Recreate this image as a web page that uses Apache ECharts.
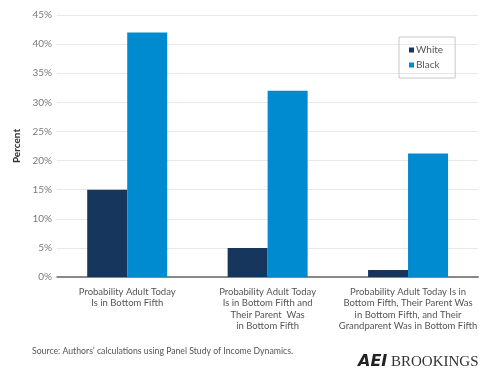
<!DOCTYPE html>
<html><head><meta charset="utf-8">
<script src="https://cdn.jsdelivr.net/npm/echarts@6/dist/echarts.min.js"></script>
<style>html,body{margin:0;padding:0;background:#fff}#c{width:480px;height:374px}</style>
</head><body><div id="c"></div>
<script>
const categories = [
  "Probability Adult Today\nIs in Bottom Fifth",
  "Probability Adult Today\nIs in Bottom Fifth and\nTheir Parent  Was\nin Bottom Fifth",
  "Probability Adult Today Is in\nBottom Fifth, Their Parent Was\nin Bottom Fifth, and Their\nGrandparent Was in Bottom Fifth"
];
const whiteValues = [15.0, 5.0, 1.2];
const blackValues = [42.0, 32.0, 21.2];
const seriesNames = ["White", "Black"];
const yTicks = [0, 5, 10, 15, 20, 25, 30, 35, 40, 45];
const sourceText = "Source: Authors\u2019 calculations using Panel Study of Income Dynamics.";

const FONT = "Lato";
const chart = echarts.init(document.getElementById('c'), null, {renderer: 'canvas'});
chart.setOption({
  animation: false,
  textStyle: {fontFamily: FONT},
  grid: {left: 57, right: 0, top: 15, bottom: 97},
  legend: {
    data: seriesNames,
    orient: 'vertical',
    left: 399, top: 37,
    width: 58,
    padding: [8, 12, 8, 10],
    itemWidth: 5, itemHeight: 5, itemGap: 5,
    borderColor: '#c8c8c8', borderWidth: 1,
    icon: 'rect',
    textStyle: {fontSize: 10, color: '#555', fontFamily: FONT, padding: [0, 0, 0, -3]}
  },
  xAxis: {
    type: 'category',
    data: categories,
    axisTick: {show: false},
    axisLine: {lineStyle: {color: '#666', width: 1.5}},
    axisLabel: {interval: 0, fontSize: 9.5, color: '#555', lineHeight: 11.5, margin: 9, fontFamily: FONT}
  },
  yAxis: {
    type: 'value',
    min: yTicks[0], max: yTicks[yTicks.length - 1], interval: 5,
    name: 'Percent',
    nameLocation: 'middle',
    nameGap: 34,
    nameTextStyle: {fontSize: 10, fontWeight: 'bold', color: '#333', fontFamily: FONT},
    axisLabel: {formatter: v => v + '%', fontSize: 10, color: '#7a7a7a', margin: 5, fontFamily: FONT},
    splitLine: {lineStyle: {color: '#e8e8e8', width: 1}},
    axisLine: {show: false}, axisTick: {show: false}
  },
  series: [
    {name: seriesNames[0], type: 'bar', data: whiteValues, barWidth: 40, barGap: '0%',
     itemStyle: {color: '#17365d'}},
    {name: seriesNames[1], type: 'bar', data: blackValues, barWidth: 40,
     itemStyle: {color: '#008bd0'}}
  ],
  graphic: [
    {type: 'text', left: 32, top: 347, style: {text: sourceText, fontSize: 8.7, fill: '#555', fontFamily: FONT}},
    {type: 'text', left: 358, top: 354, style: {
      text: '{a|AEI}{b| BROOKINGS}',
      rich: {
        a: {fontSize: 16, fontWeight: 'bold', fontStyle: 'italic', fill: '#222', fontFamily: 'DejaVu Sans'},
        b: {fontSize: 15, fill: '#333', fontFamily: 'Liberation Serif'}
      }
    }}
  ]
});
</script></body></html>
